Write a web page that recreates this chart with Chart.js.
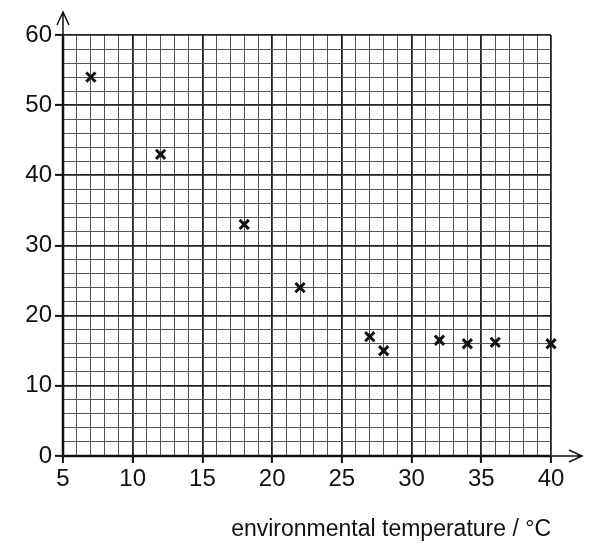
<!DOCTYPE html>
<html><head><script src="https://cdn.jsdelivr.net/npm/chart.js"></script>
<style>html,body{margin:0;padding:0;background:#fff}#w{width:589px;height:547px}</style></head>
<body><div id="w"><canvas id="c"></canvas></div>
<script>
const temps = [7, 12, 18, 22, 27, 28, 32, 34, 36, 40];
const values = [54, 43, 33, 24, 17, 15, 16.5, 16, 16.2, 16];
const xTitle = 'environmental temperature / °C';
const arrows = {id:'arrows', afterDraw(ch){
  const c=ch.ctx, a=ch.chartArea; c.save(); c.strokeStyle='#111'; c.lineWidth=1.5;
  c.beginPath();
  c.moveTo(a.left,a.top); c.lineTo(a.left,a.top-22);
  c.moveTo(a.left-6,a.top-10); c.lineTo(a.left,a.top-23); c.lineTo(a.left+6,a.top-10);
  c.moveTo(a.right,a.bottom); c.lineTo(a.right+30,a.bottom);
  c.moveTo(a.right+18,a.bottom-6); c.lineTo(a.right+31,a.bottom); c.lineTo(a.right+18,a.bottom+6);
  c.stroke();
  c.lineWidth=2.5; c.beginPath(); c.moveTo(a.left,a.top); c.lineTo(a.left,a.bottom); c.lineTo(a.right,a.bottom); c.stroke();
  c.restore();}};
new Chart(document.getElementById('c'),{
  type:'scatter',
  data:{datasets:[{data:temps.map((t,i)=>({x:t,y:values[i]})),pointStyle:'crossRot',pointRadius:6.5,borderColor:'#111',borderWidth:3,clip:false}]},
  options:{responsive:true,maintainAspectRatio:false,animation:false,
    layout:{padding:{top:35,right:38,left:0,bottom:0}},
    plugins:{legend:{display:false},tooltip:{enabled:false}},
    scales:{
      x:{type:'linear',min:5,max:40,afterFit(s){s.height=91;},
        border:{display:false},
        grid:{color:c=>c.tick.value%5===0?'#222':'#555',lineWidth:c=>c.tick.value%5===0?1.8:1,
          tickLength:7,tickColor:c=>c.tick&&c.tick.value%5===0?'#111':'rgba(0,0,0,0)',tickWidth:2},
        ticks:{stepSize:1,autoSkip:false,maxRotation:0,color:'#111',font:{family:'Liberation Sans',size:24},padding:2,
          callback:v=>v%5===0?v:''},
        title:{display:true,text:xTitle,align:'end',color:'#111',font:{family:'Liberation Sans',size:23},padding:{top:6}}},
      y:{type:'linear',min:0,max:60,afterFit(s){s.width=63;},
        border:{display:false},
        grid:{color:c=>c.tick.value%10===0?'#222':'#555',lineWidth:c=>c.tick.value%10===0?1.8:1,
          tickLength:8,tickColor:c=>c.tick&&c.tick.value%10===0?'#111':'rgba(0,0,0,0)',tickWidth:2},
        ticks:{stepSize:2,autoSkip:false,color:'#111',font:{family:'Liberation Sans',size:24},padding:3,
          callback:v=>v%10===0?v:''}}
    }},
  plugins:[arrows]});
</script></body></html>
